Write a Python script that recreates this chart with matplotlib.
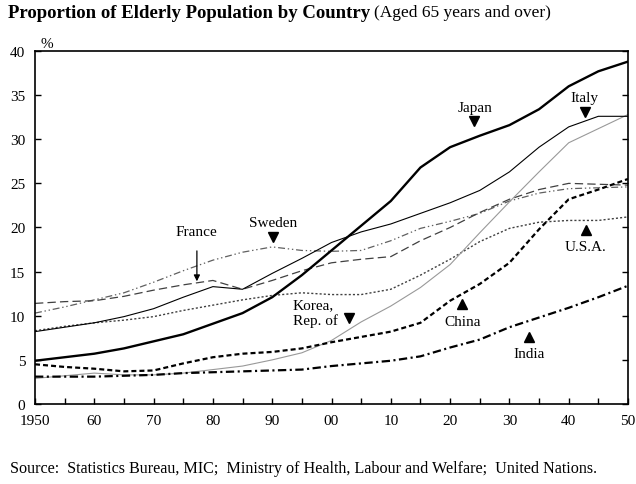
import numpy as np
import matplotlib
matplotlib.use('Agg')
import matplotlib.pyplot as plt

plt.rcParams['font.family'] = ['Liberation Serif', 'DejaVu Serif']
plt.rcParams['lines.scale_dashes'] = False

# Data (% of population aged 65+)
years = list(range(1950, 2051, 5))
japan = [4.9, 5.3, 5.7, 6.3, 7.1, 7.9, 9.1, 10.3, 12.1, 14.6, 17.4,
         20.2, 23.0, 26.8, 29.1, 30.4, 31.6, 33.4, 36.0, 37.7, 38.8]
italy = [8.2, 8.7, 9.2, 9.9, 10.8, 12.1, 13.3, 13.0, 14.8, 16.5, 18.3,
         19.5, 20.4, 21.6, 22.8, 24.2, 26.3, 29.1, 31.4, 32.6, 32.6]
korea = [2.9, 3.2, 3.5, 3.3, 3.3, 3.5, 3.9, 4.3, 5.0, 5.8, 7.2,
         9.3, 11.1, 13.2, 15.8, 19.4, 22.9, 26.3, 29.6, 31.2, 32.8]
china = [4.5, 4.2, 4.0, 3.7, 3.8, 4.6, 5.3, 5.7, 5.9, 6.3, 7.0,
         7.6, 8.2, 9.2, 11.7, 13.6, 16.0, 19.8, 23.2, 24.3, 25.5]
india = [3.1, 3.1, 3.1, 3.2, 3.3, 3.5, 3.6, 3.7, 3.8, 3.9, 4.3,
         4.6, 4.9, 5.4, 6.4, 7.3, 8.7, 9.8, 10.9, 12.1, 13.4]
usa = [8.3, 8.8, 9.2, 9.5, 9.9, 10.6, 11.2, 11.8, 12.3, 12.6, 12.4,
       12.4, 13.0, 14.6, 16.4, 18.4, 19.9, 20.6, 20.8, 20.8, 21.2]
france = [11.4, 11.6, 11.7, 12.2, 12.9, 13.5, 14.0, 13.0, 14.0, 15.1, 16.0,
          16.4, 16.7, 18.5, 20.0, 21.7, 23.2, 24.3, 25.0, 24.9, 24.8]
sweden = [10.3, 11.0, 11.8, 12.6, 13.8, 15.1, 16.3, 17.2, 17.8, 17.4, 17.3,
          17.4, 18.5, 19.9, 20.7, 21.6, 23.0, 23.9, 24.4, 24.5, 24.6]

xticks = list(range(1950, 2051, 10))
xlabels = ['1950', '60', '70', '80', '90', '00', '10', '20', '30', '40', '50']

fig = plt.figure(figsize=(6.36, 4.85), dpi=100)
ax = fig.add_axes([35/636, 1-405/485, (628-35)/636, (405-52)/485])

ax.plot(years, sweden, color='#606060', lw=0.9, dashes=(5, 2, 1, 2, 1, 2))
ax.plot(years, france, color='#404040', lw=0.9, dashes=(6, 3))
ax.plot(years, usa, color='#404040', lw=1.0, dashes=(1.5, 1.5))
ax.plot(years, korea, color='#999999', lw=0.8)
ax.plot(years, italy, color='black', lw=0.8)
ax.plot(years, india, color='black', lw=1.6, dashes=(6, 2.5, 1.5, 2.5))
ax.plot(years, china, color='black', lw=1.6, dashes=(3.6, 2.2))
ax.plot(years, japan, color='black', lw=1.7)

ax.set_xlim(1950, 2050)
ax.set_ylim(0, 40)
ax.set_xticks(list(range(1950, 2051, 5)), minor=True)
ax.set_xticks(xticks)
ax.set_xticklabels(xlabels)
ax.set_yticks(range(0, 41, 5))
ax.tick_params(axis='both', direction='in', length=4, width=1, labelsize=11, pad=7)
ax.tick_params(axis='x', which='minor', direction='in', length=4, width=1)
ax.tick_params(axis='y', right=True)
for s in ax.spines.values():
    s.set_linewidth(1.2)

# labels with markers
fs = 11
lab = dict(fontsize=fs, ha='center', va='center')
ms = 7
ax.text(2024.2, 33.6, 'Japan', **lab)
ax.plot(2024, 32.1, marker='v', color='black', ms=ms)
ax.text(2042.7, 34.7, 'Italy', **lab)
ax.plot(2042.7, 33.1, marker='v', color='black', ms=ms)
ax.text(1990.1, 20.6, 'Sweden', **lab)
ax.plot(1990.1, 18.9, marker='v', color='black', ms=ms)
ax.text(2042.9, 17.9, 'U.S.A.', **lab)
ax.plot(2042.9, 19.7, marker='^', color='black', ms=ms)
ax.text(2022.1, 9.4, 'China', **lab)
ax.plot(2022.0, 11.3, marker='^', color='black', ms=ms)
ax.text(2033.3, 5.7, 'India', **lab)
ax.plot(2033.3, 7.6, marker='^', color='black', ms=ms)
ax.text(1993.5, 10.35, 'Korea,\nRep. of', fontsize=fs, ha='left', va='center',
        linespacing=1.25)
ax.plot(2003.0, 9.7, marker='v', color='black', ms=ms)
ax.annotate('France', xy=(1977.3, 13.9), xytext=(1977.3, 19.5), fontsize=fs,
            ha='center', va='center',
            arrowprops=dict(arrowstyle='-|>', color='black', lw=0.9,
                            shrinkA=7, shrinkB=0, mutation_scale=9))

ax.text(47/636, 1-44/485, '%', transform=fig.transFigure, fontsize=fs,
        ha='center', va='center')

t1 = fig.text(8/636, 1-13/485, 'Proportion of Elderly Population by Country',
              fontsize=13.5, fontweight='bold', ha='left', va='center')
fig.canvas.draw()
bb = t1.get_window_extent(renderer=fig.canvas.get_renderer())
fig.text(bb.x1/636 + 4/636, 1-13/485, '(Aged 65 years and over)',
         fontsize=12.5, ha='left', va='center')

fig.text(10/636, 1-469/485,
         'Source:  Statistics Bureau, MIC;  Ministry of Health, Labour and Welfare;  United Nations.',
         fontsize=11.6, ha='left', va='center')

fig.savefig('out.png', dpi=100)
